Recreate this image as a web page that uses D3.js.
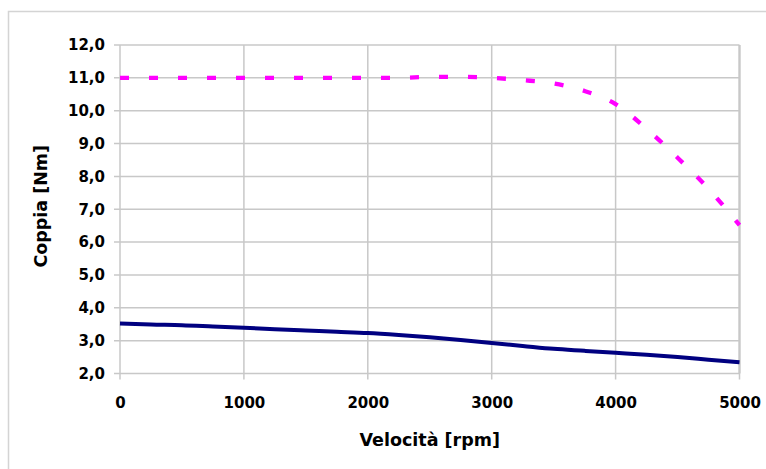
<!DOCTYPE html>
<html lang="it">
<head>
<meta charset="UTF-8">
<title>Coppia - Velocità</title>
<style>
    body, html {
        margin: 0;
        padding: 0;
        background-color: #ffffff;
    }
    svg text {
        font-family: "DejaVu Sans", sans-serif;
        font-weight: bold;
        fill: #000;
    }
</style>
</head>
<body>
<svg id="chart" width="766" height="469"></svg>

<script src="https://d3js.org/d3.v7.min.js"></script>
<script>
    // Velocità [rpm]
    const speed = [0, 250, 500, 750, 1000, 1250, 1500, 1750, 2000, 2250, 2500,
                   2750, 3000, 3250, 3500, 3750, 4000, 4250, 4500, 4750, 5000];

    // Coppia massima (tratteggiata, magenta)
    const coppiaMax = [11.0, 11.0, 11.0, 11.0, 11.0, 11.0, 11.0, 11.0, 11.0, 11.0, 11.03,
                       11.03, 11.0, 10.93, 10.83, 10.6, 10.2, 9.45, 8.57, 7.62, 6.52];

    // Coppia nominale (continua, blu)
    const coppiaNom = [3.52, 3.49, 3.47, 3.43, 3.39, 3.35, 3.31, 3.27, 3.23, 3.17, 3.10,
                       3.02, 2.93, 2.84, 2.75, 2.69, 2.63, 2.57, 2.50, 2.42, 2.34];

    const xTicks = [0, 1000, 2000, 3000, 4000, 5000];
    const yTicks = [2, 3, 4, 5, 6, 7, 8, 9, 10, 11, 12];

    const svg = d3.select("#chart");

    // Outer chart border
    svg.append("rect")
        .attr("x", 8.5).attr("y", 11.5)
        .attr("width", 800).attr("height", 500)
        .attr("fill", "none")
        .attr("stroke", "#d4d4d4")
        .attr("stroke-width", 1.5);

    const plot = { left: 120, right: 739.5, top: 45, bottom: 373.5 };

    const x = d3.scaleLinear().domain([0, 5000]).range([plot.left, plot.right]);
    const y = d3.scaleLinear().domain([2, 12]).range([plot.bottom, plot.top]);

    const comma = d3.formatLocale({ decimal: ",", thousands: ".", grouping: [3], currency: ["", "€"] });
    const fmtY = comma.format(".1f");

    // Gridlines
    const grid = svg.append("g").attr("stroke", "#c8c8c8").attr("stroke-width", 1.5);
    grid.selectAll("line.h")
        .data(yTicks)
        .join("line")
        .attr("class", "h")
        .attr("x1", plot.left - 6).attr("x2", plot.right)
        .attr("y1", d => y(d)).attr("y2", d => y(d));
    grid.selectAll("line.v")
        .data(xTicks)
        .join("line")
        .attr("class", "v")
        .attr("x1", d => x(d)).attr("x2", d => x(d))
        .attr("y1", plot.top).attr("y2", plot.bottom + 6);
    // right edge of plot area looks heavier
    grid.append("line")
        .attr("x1", plot.right).attr("x2", plot.right)
        .attr("y1", plot.top).attr("y2", plot.bottom)
        .attr("stroke-width", 2.2);

    // Axes labels (drawn through d3 axes, domain/ticks hidden)
    const yAxis = svg.append("g")
        .attr("transform", `translate(${plot.left - 15},0)`)
        .call(d3.axisLeft(y).tickValues(yTicks).tickFormat(fmtY).tickSize(0));
    yAxis.select(".domain").remove();
    yAxis.selectAll("text")
        .attr("x", 0)
        .style("font-size", "15px")
        .style("font-family", "'DejaVu Sans', sans-serif")
        .style("font-weight", "bold");

    const xAxis = svg.append("g")
        .attr("transform", `translate(0,${plot.bottom + 22})`)
        .call(d3.axisBottom(x).tickValues(xTicks).tickFormat(d3.format("d")).tickSize(0));
    xAxis.select(".domain").remove();
    xAxis.selectAll("text")
        .attr("y", 0)
        .attr("dy", "0.8em")
        .style("font-size", "15px")
        .style("font-family", "'DejaVu Sans', sans-serif")
        .style("font-weight", "bold");

    // Axis titles
    svg.append("text")
        .attr("x", (plot.left + plot.right) / 2)
        .attr("y", 446)
        .attr("text-anchor", "middle")
        .style("font-size", "17.5px")
        .text("Velocità [rpm]");

    svg.append("text")
        .attr("transform", `translate(46.5,${(plot.top + plot.bottom) / 2 - 3}) rotate(-90)`)
        .attr("text-anchor", "middle")
        .style("font-size", "17.5px")
        .text("Coppia [Nm]");

    // Series
    const line = d3.line()
        .x((d, i) => x(speed[i]))
        .y(d => y(d))
        .curve(d3.curveMonotoneX);

    svg.append("path")
        .datum(coppiaNom)
        .attr("d", line)
        .attr("fill", "none")
        .attr("stroke", "#000080")
        .attr("stroke-width", 4);

    svg.append("path")
        .datum(coppiaMax)
        .attr("d", line)
        .attr("fill", "none")
        .attr("stroke", "#ff00ff")
        .attr("stroke-width", 4.3)
        .attr("stroke-dasharray", "9,20");
</script>
</body>
</html>
